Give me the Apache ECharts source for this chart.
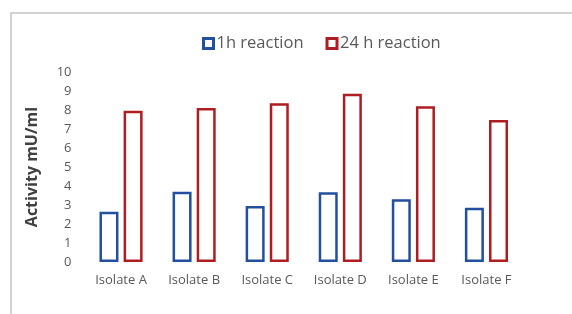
<!DOCTYPE html>
<html>
<head>
<meta charset="utf-8">
<title>Activity</title>
<script src="https://cdn.jsdelivr.net/npm/echarts@6/dist/echarts.min.js"></script>
<style>
body{margin:0;padding:0;background:#fff;}
#chartmain{width:572px;height:314px;}
</style>
</head>
<body>
<div id="chartmain"></div>
<script type="text/javascript">
// values
var isolates = ['Isolate A','Isolate B','Isolate C','Isolate D','Isolate E','Isolate F'];
var h1 = [2.65, 3.7, 2.95, 3.67, 3.3, 2.86];
var h24 = [7.96, 8.1, 8.35, 8.85, 8.2, 7.47];
var yTicks = [0,1,2,3,4,5,6,7,8,9,10];

var blue = '#23509e';
var red = '#ad1d22';
var font = '"Open Sans", "Noto Sans", sans-serif';

var myChart = echarts.init(document.getElementById('chartmain'));
myChart.setOption({
	animation:false,
	textStyle:{fontFamily:font},
	graphic:[
		{type:'polyline', shape:{points:[[11,314],[11,13],[572,13]]},
		 style:{stroke:'#c4c4c4', lineWidth:1.5, fill:null}}
	],
	legend:{
		top:30,
		left:197,
		itemWidth:10,
		itemHeight:10,
		itemGap:22,
		icon:'rect',
		textStyle:{fontSize:16.5, color:'#595959', fontFamily:font, padding:[0,0,0,-2]},
		itemStyle:{color:'#fff', borderWidth:3},
		data:['1h reaction','24 h reaction']
	},
	grid:{left:84.5, right:49, top:72, bottom:52},
	xAxis:{
		type:'category',
		data:isolates,
		axisLine:{show:false},
		axisTick:{show:false},
		axisLabel:{color:'#595959', fontSize:13, margin:12}
	},
	yAxis:{
		type:'value',
		min:yTicks[0],
		max:yTicks[yTicks.length-1],
		interval:1,
		name:'Activity mU/ml',
		nameLocation:'middle',
		nameGap:44,
		nameTextStyle:{fontSize:16, fontWeight:'bold', color:'#404040'},
		splitLine:{show:false},
		axisLine:{show:false},
		axisTick:{show:false},
		axisLabel:{color:'#595959', fontSize:13, margin:13}
	},
	series:[
		{
			name:'1h reaction',
			type:'bar',
			barWidth:19,
			barGap:'27%',
			data:h1,
			itemStyle:{color:'#fff', borderColor:blue, borderWidth:2.5}
		},
		{
			name:'24 h reaction',
			type:'bar',
			barWidth:19,
			barGap:'27%',
			data:h24,
			itemStyle:{color:'#fff', borderColor:red, borderWidth:2.5}
		}
	]
});
</script>
</body>
</html>
